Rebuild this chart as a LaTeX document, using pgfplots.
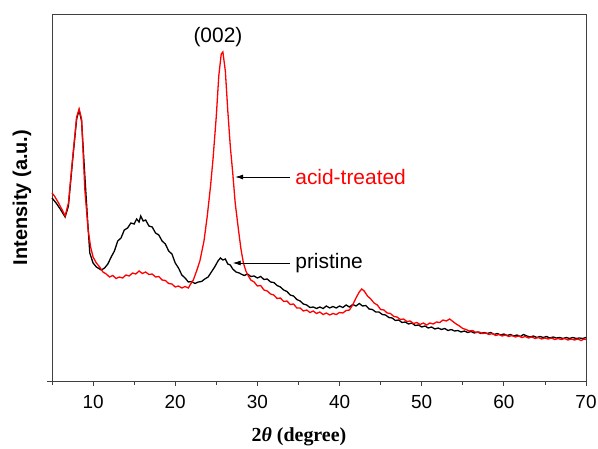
\documentclass[border=0pt]{standalone}
\usepackage{pgfplots}
\pgfplotsset{compat=1.18}
\usetikzlibrary{arrows.meta}
\usepackage{fontspec}
\setmainfont{Liberation Sans}
\newfontfamily\timesf{Liberation Serif}
\pgfplotstableread{
x y
5.0 183
5.5 178
6.0 172
6.6 164
7.0 175
7.5 220
8.0 262
8.3 271
8.6 260
9.0 205
9.3 165
9.6 128
10.0 118
10.4 114
11.0 111
11.4 113
11.8 117
12.2 124
12.6 130
13.0 140
13.4 143
13.8 151
14.2 153
14.6 158
15.0 157
15.3 162
15.6 159
15.8 165
16.1 160
16.4 161
16.8 155
17.2 154
17.6 148
18.0 146
18.4 140
18.8 137
19.2 130
19.6 127
20.0 118
20.4 113
20.8 106
21.2 103
21.6 99
22.0 99.5
22.4 97.5
22.8 99
23.2 99.5
23.6 102
24.0 104
24.4 109
24.8 114
25.2 120
25.5 123
25.8 121
26.1 122
26.4 117
26.7 116
27.0 112
27.4 109
27.8 108
28.0 107
28.4 105.5
28.8 107
29.2 104.5
29.6 105
30.0 103
30.4 104.5
30.8 101.5
31.2 102
31.6 99
32.0 98.5
32.4 95.5
32.8 94
33.2 91
33.6 89.5
34.0 86
34.4 85
34.8 81.5
35.2 80
35.6 77
36.0 76
36.4 73.5
36.8 74
37.2 72.5
37.6 74
38.0 72.5
38.4 75
38.8 73
39.2 74.5
39.6 73
40.0 75
40.4 73.5
40.8 76
41.2 74
41.6 76.5
42.0 75
42.4 77.5
42.8 75
43.2 75.5
43.6 72
44.0 71.5
44.4 69
44.8 69
45.2 66.5
45.6 66
46.0 63.5
46.4 63
46.8 60.5
47.2 61
47.6 58.5
48.0 59
48.4 57
48.8 58
49.2 55.5
49.6 56
50.0 54
50.4 55
50.8 53
51.2 54
51.6 52
52.0 53
52.4 51.5
52.8 52.5
53.2 50.5
53.6 51.5
54.0 50
54.4 50.5
54.8 49
55.2 50
55.6 48.5
56.0 49.5
56.4 48
56.8 49
57.2 47.5
57.6 48.5
58.0 47.5
58.4 48.5
58.8 46.5
59.2 47.5
59.6 46
60.0 47
60.4 45.5
60.8 46.5
61.2 45
61.6 46
62.0 44.5
62.4 46.5
62.8 45
63.2 44
63.6 45
64.0 43.5
64.4 44.5
64.8 43.5
65.2 44.5
65.6 43
66.0 44
66.4 43
66.8 43.5
67.2 42.5
67.6 43.5
68.0 42.5
68.4 43.5
68.8 42.5
69.2 43
69.6 42.5
70.0 43.5
}\pristine
\pgfplotstableread{
x y
5.0 188
5.3 185
5.8 178
6.3 170
6.6 165
7.0 178
7.5 222
8.0 264
8.3 272
8.6 262
9.0 191
9.4 151
9.7 134
10.0 124
10.4 118
10.8 114
11.2 109
11.6 107
12.0 104
12.4 105.5
12.8 102.5
13.2 104
13.6 103
14.0 106
14.4 105
14.8 108
15.2 107
15.6 110
16.0 107.5
16.4 109
16.8 106.5
17.2 107
17.6 104
18.0 104.5
18.4 101
18.8 100.5
19.2 97.5
19.6 97
20.0 94
20.4 95
20.8 93
21.2 94.5
21.6 93
21.8 96
22.2 101
22.6 110
23.0 120
23.5 140
23.9 165
24.3 195
24.6 222
25.0 265
25.3 305
25.6 327
25.8 329
26.1 310
26.4 270
26.7 235
27.0 208
27.3 178
27.7 151
28.0 132
28.3 118
28.6 110
28.9 105
29.2 101
29.6 99
30.0 95
30.4 95.5
30.8 91
31.2 90
31.6 87
32.0 86
32.4 82.5
32.8 83
33.2 79.5
33.6 80
34.0 76.5
34.4 77
34.8 73
35.2 73
35.6 70
36.0 71
36.4 68.5
36.8 70
37.2 67.5
37.6 69
38.0 66.5
38.4 68
38.8 66
39.2 67.5
39.6 66.5
40.0 68.5
40.4 68
40.8 70.5
41.2 71
41.6 76
42.0 83
42.4 89
42.7 92
43.0 90
43.4 85
43.8 82
44.2 78
44.6 76
45.0 71.5
45.4 71
45.8 68
46.2 67.5
46.6 64.5
47.0 64
47.4 61.5
47.8 62
48.2 59.5
48.6 60
49.0 57.5
49.4 58.5
49.8 56.5
50.2 58
50.6 56
51.0 58
51.4 57
51.8 59
52.2 58.5
52.6 61
53.0 60
53.4 62
53.8 59.5
54.2 57
54.6 55
55.0 52.5
55.4 51.5
55.8 50
56.2 50.5
56.6 48.5
57.0 49
57.4 47.5
57.8 48
58.2 46.5
58.6 47.5
59.0 45.5
59.4 46.5
59.8 45
60.2 46
60.6 44.5
61.0 45.5
61.4 44
61.8 45
62.2 43.5
62.6 44.5
63.0 43
63.4 44
63.8 42.5
64.2 43.5
64.6 42
65.0 43
65.4 42
65.8 43
66.2 41.5
66.6 42.5
67.0 41.5
67.4 42.5
67.8 41
68.2 42
68.6 41
69.0 42
69.4 40.5
69.8 42
70.0 41.5
}\acid
\begin{document}
\begin{tikzpicture}
\useasboundingbox (0,0) rectangle (598bp,449bp);
\begin{axis}[
  at={(52bp,68bp)}, anchor=south west,
  scale only axis, width=534bp, height=367bp,
  xmin=5, xmax=70, ymin=0, ymax=367,
  xtick={10,20,...,70}, minor xtick={5,15,...,65},
  ytick={0}, yticklabels={},
  xtick pos=bottom, ytick pos=left,
  tick align=outside, major tick length=5bp, minor tick length=4bp,
  axis line style={draw=black!75, line width=0.8bp},
  every tick/.style={draw=black!75, line width=0.8bp},
  every minor tick/.style={draw=black!75, line width=0.8bp},
  /pgf/number format/assume math mode=true,
  xticklabel style={font=\fontsize{19}{22}\selectfont, yshift=-6bp},
  xlabel={{\timesf\bfseries 2\textit{θ} (degree)}},
  xlabel style={font=\fontsize{20}{24}\selectfont, at={(axis description cs:0.4625,-0.1526)}, anchor=center},
  ylabel={\bfseries Intensity (a.u.)},
  ylabel style={font=\fontsize{20}{24}\selectfont, at={(axis description cs:-0.0562,0.5)}, anchor=center},
  clip=false,
]
\addplot[black, line width=1.3bp] table[x=x,y=y] {\pristine};
\addplot[red, line width=1.3bp] table[x=x,y=y] {\acid};
\node[font=\fontsize{21}{25}\selectfont] at (axis cs:25.2,344) {(002)};
\draw[-{Latex[length=8bp,width=5bp]}, line width=0.8bp] (axis cs:34.0,204) -- (axis cs:27.3,204);
\draw[-{Latex[length=8bp,width=5bp]}, line width=0.8bp] (axis cs:34.0,118) -- (axis cs:27.0,118);
\node[anchor=west, red, font=\fontsize{21}{25}\selectfont, inner sep=0pt] at (axis cs:34.6,204) {acid-treated};
\node[anchor=west, font=\fontsize{21}{25}\selectfont, inner sep=0pt] at (axis cs:34.6,118) {pristine};
\end{axis}
\end{tikzpicture}
\end{document}
